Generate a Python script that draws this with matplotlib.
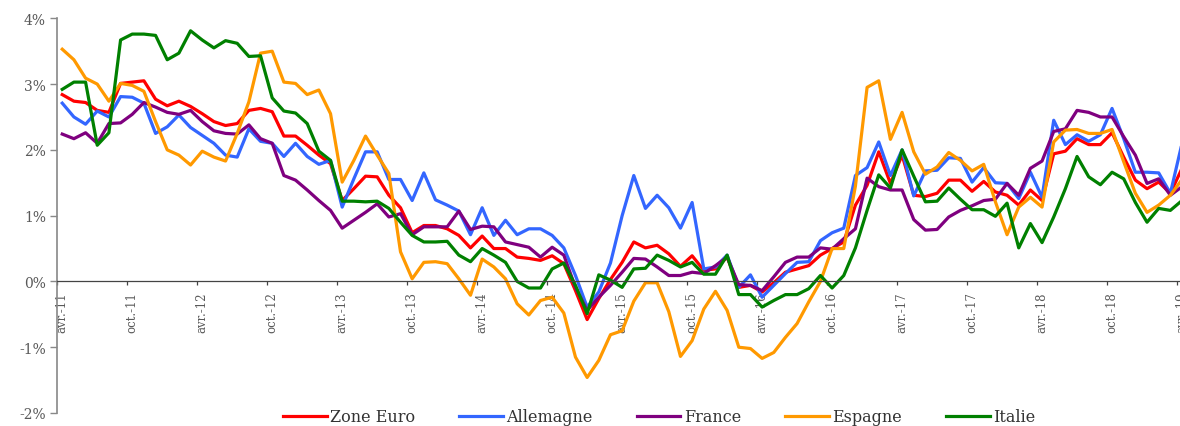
import matplotlib
matplotlib.use("Agg")
import matplotlib.pyplot as plt
import numpy as np

# Monthly y/y inflation, avr. 2011 -> avr. 2019 (97 months)
zone_euro = [2.84, 2.74, 2.72, 2.60, 2.57, 3.01, 3.03, 3.05, 2.77, 2.67, 2.74, 2.66, 2.55, 2.43, 2.37, 2.40, 2.60,
             2.63, 2.58, 2.21, 2.21, 2.07, 1.92, 1.79, 1.23, 1.41, 1.60, 1.59, 1.31, 1.12, 0.74, 0.85, 0.85,
             0.80, 0.70, 0.51, 0.69, 0.50, 0.50, 0.37, 0.35, 0.32, 0.39, 0.27, -0.14, -0.58, -0.26, 0.03, 0.29, 0.60,
             0.51, 0.55, 0.42, 0.23, 0.39, 0.17, 0.19, 0.37, -0.09, -0.06, -0.16, -0.02, 0.14, 0.19, 0.24, 0.40,
             0.50, 0.60, 1.16, 1.46, 1.97, 1.49, 1.92, 1.31, 1.29, 1.34, 1.54, 1.54, 1.37, 1.52, 1.36, 1.31,
             1.16, 1.39, 1.23, 1.94, 1.98, 2.17, 2.08, 2.08, 2.26, 1.89, 1.54, 1.41, 1.51, 1.34, 1.72]
allemagne = [2.71, 2.50, 2.39, 2.59, 2.50, 2.81, 2.80, 2.71, 2.25, 2.35, 2.53, 2.34, 2.22, 2.10, 1.92, 1.89, 2.32,
             2.13, 2.10, 1.90, 2.10, 1.90, 1.78, 1.84, 1.13, 1.56, 1.97, 1.97, 1.55, 1.55, 1.23, 1.65, 1.24,
             1.16, 1.07, 0.71, 1.12, 0.70, 0.93, 0.71, 0.80, 0.80, 0.70, 0.51, 0.09, -0.39, -0.16, 0.28, 1.00, 1.61,
             1.11, 1.31, 1.12, 0.81, 1.20, 0.19, 0.22, 0.40, -0.09, 0.10, -0.24, -0.06, 0.12, 0.29, 0.30, 0.62,
             0.74, 0.81, 1.61, 1.73, 2.12, 1.61, 2.00, 1.30, 1.68, 1.69, 1.88, 1.87, 1.51, 1.73, 1.50, 1.49,
             1.26, 1.66, 1.28, 2.45, 2.08, 2.23, 2.13, 2.23, 2.63, 2.17, 1.66, 1.66, 1.65, 1.34, 2.10]
france = [2.24, 2.17, 2.26, 2.10, 2.40, 2.41, 2.54, 2.72, 2.65, 2.57, 2.54, 2.60, 2.43, 2.29, 2.25, 2.24, 2.38,
          2.17, 2.10, 1.61, 1.54, 1.39, 1.23, 1.08, 0.81, 0.93, 1.05, 1.18, 0.98, 1.03, 0.71, 0.83, 0.83,
          0.83, 1.07, 0.79, 0.84, 0.83, 0.60, 0.56, 0.52, 0.37, 0.52, 0.40, -0.09, -0.44, -0.24, -0.06, 0.14, 0.35,
          0.34, 0.22, 0.09, 0.09, 0.14, 0.12, 0.24, 0.37, -0.05, -0.06, -0.14, 0.07, 0.29, 0.37, 0.37, 0.51,
          0.49, 0.65, 0.80, 1.57, 1.44, 1.39, 1.39, 0.94, 0.78, 0.79, 0.98, 1.08, 1.15, 1.23, 1.25, 1.49,
          1.31, 1.72, 1.83, 2.28, 2.32, 2.60, 2.57, 2.50, 2.50, 2.20, 1.92, 1.49, 1.56, 1.31, 1.44]
espagne = [3.53, 3.37, 3.09, 3.00, 2.74, 3.01, 2.98, 2.89, 2.43, 2.00, 1.92, 1.77, 1.98, 1.89, 1.83, 2.25, 2.73,
           3.47, 3.50, 3.03, 3.01, 2.84, 2.91, 2.55, 1.51, 1.84, 2.21, 1.92, 1.64, 0.45, 0.04, 0.29, 0.30,
           0.27, 0.04, -0.21, 0.34, 0.22, 0.04, -0.34, -0.51, -0.29, -0.24, -0.48, -1.15, -1.46, -1.20, -0.81, -0.75, -0.30,
           -0.02, -0.02, -0.46, -1.14, -0.90, -0.42, -0.15, -0.44, -1.00, -1.02, -1.17, -1.08, -0.85, -0.64, -0.31, 0.00,
           0.50, 0.50, 1.45, 2.95, 3.05, 2.16, 2.57, 1.97, 1.63, 1.74, 1.96, 1.84, 1.68, 1.78, 1.21, 0.71,
           1.13, 1.28, 1.13, 2.12, 2.30, 2.31, 2.25, 2.25, 2.31, 1.82, 1.34, 1.05, 1.16, 1.31, 1.55]
italie = [2.92, 3.03, 3.03, 2.07, 2.26, 3.67, 3.76, 3.76, 3.74, 3.37, 3.47, 3.81, 3.67, 3.55, 3.66, 3.62, 3.42,
          3.43, 2.79, 2.59, 2.56, 2.40, 1.98, 1.84, 1.22, 1.22, 1.21, 1.22, 1.11, 0.90, 0.70, 0.60, 0.60,
          0.61, 0.40, 0.30, 0.50, 0.40, 0.29, 0.00, -0.10, -0.10, 0.19, 0.28, -0.06, -0.49, 0.10, 0.02, -0.09, 0.19,
          0.20, 0.40, 0.32, 0.22, 0.29, 0.11, 0.11, 0.40, -0.20, -0.20, -0.39, -0.29, -0.20, -0.20, -0.11, 0.09,
          -0.10, 0.09, 0.51, 1.08, 1.62, 1.42, 2.00, 1.60, 1.21, 1.22, 1.42, 1.25, 1.09, 1.09, 0.99, 1.19,
          0.51, 0.88, 0.59, 0.98, 1.41, 1.90, 1.59, 1.47, 1.66, 1.56, 1.20, 0.90, 1.11, 1.08, 1.23]

series_names = ["Zone Euro", "Allemagne", "France", "Espagne", "Italie"]
series_colors = ["#FF0000", "#3366FF", "#7F007F", "#FF9900", "#008000"]
tick_labels = ["avr.-11", "oct.-11", "avr.-12", "oct.-12", "avr.-13", "oct.-13", "avr.-14", "oct.-14",
               "avr.-15", "oct.-15", "avr.-16", "oct.-16", "avr.-17", "oct.-17", "avr.-18", "oct.-18", "avr.-19"]
ytick_values = [-2, -1, 0, 1, 2, 3, 4]
ytick_labels = ["-2%", "-1%", "0%", "1%", "2%", "3%", "4%"]

W, H = 1180, 427
fig = plt.figure(figsize=(W / 100, H / 100), dpi=100)
ax = fig.add_axes([57 / W, (H - 414) / H, (1200 - 57) / W, (414 - 19.3) / H])

x = np.arange(len(zone_euro))
for vals, name, col in zip([zone_euro, allemagne, france, espagne, italie], series_names, series_colors):
    ax.plot(x, vals, color=col, lw=2.3, label=name, solid_joinstyle="round")

ax.set_xlim(-0.4, (1200 - 61.7) / 11.67)
ax.set_ylim(-2, 4)

serif = "DejaVu Serif"
gray = "#595959"

ax.spines["top"].set_visible(False)
ax.spines["right"].set_visible(False)
ax.spines["bottom"].set_position(("data", 0))
ax.spines["bottom"].set_color("#444444")
ax.spines["bottom"].set_linewidth(0.9)
ax.spines["left"].set_color("#888888")
ax.spines["left"].set_linewidth(1.2)

ax.set_yticks(ytick_values)
ax.set_yticklabels(ytick_labels, fontfamily=serif, fontsize=10, color=gray)
ax.tick_params(axis="y", direction="out", length=5, width=1.0, color="#888888", pad=3)

major_pos = np.arange(0, len(zone_euro), 6)
ax.set_xticks(major_pos)
ax.set_xticklabels(tick_labels, rotation=90, fontfamily=serif, fontsize=8.5, color=gray)
ax.tick_params(axis="x", which="major", length=0, pad=7)
ax.set_xticks(major_pos - 0.45, minor=True)
ax.tick_params(axis="x", which="minor", direction="out", length=3, width=0.9, color="#444444")

leg = fig.legend(loc="center", bbox_to_anchor=(659 / W, (H - 418) / H), ncol=5, frameon=False,
                 prop={"family": serif, "size": 11.5}, handlelength=2.75, handletextpad=0.2,
                 columnspacing=2.75, borderpad=0, borderaxespad=0)
for t in leg.get_texts():
    t.set_color("#333333")

fig.savefig("out.png", dpi=100)
